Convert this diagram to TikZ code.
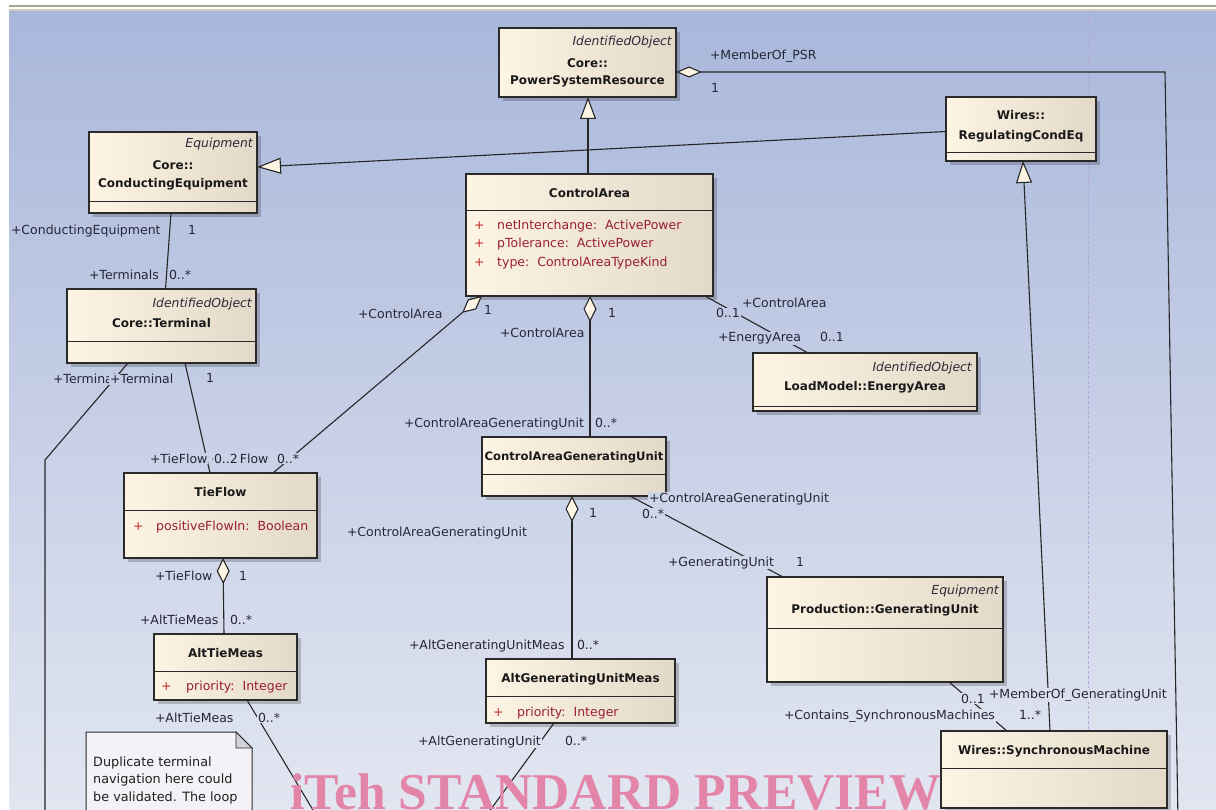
\documentclass[tikz,border=0pt]{standalone}
\usepackage{fontspec}
\usetikzlibrary{arrows.meta,shadows}
\newfontfamily\umlf{DejaVu Sans}
\newfontfamily\wmf{Liberation Serif}
\definecolor{bgTop}{HTML}{A9B7DB}
\definecolor{bgBot}{HTML}{E2E6F1}
\definecolor{boxL}{HTML}{FDF4E4}
\definecolor{boxR}{HTML}{E3D9C8}
\definecolor{boxln}{HTML}{2A2A2A}
\definecolor{lnc}{HTML}{262626}
\definecolor{labc}{HTML}{262638}
\definecolor{ttlc}{HTML}{1A1A1A}
\definecolor{sterc}{HTML}{302838}
\definecolor{attrc}{HTML}{9A1F30}
\definecolor{plusc}{HTML}{C42A2A}
\definecolor{notef}{HTML}{F4F2F6}
\definecolor{foldc}{HTML}{D2D2D8}
\definecolor{notec}{HTML}{202020}
\definecolor{wmc}{HTML}{E385A8}
\definecolor{pagel}{HTML}{B3A8D8}
\definecolor{topla}{HTML}{A8A48F}
\definecolor{toplb}{HTML}{D0CBB6}
\newcommand\lfont{\umlf\fontsize{12.5}{15}\selectfont}
\newcommand\tfont{\umlf\bfseries\fontsize{12}{14}\selectfont}
\newcommand\sfont{\umlf\itshape\fontsize{12.4}{15}\selectfont}
\newcommand\nfont{\umlf\fontsize{12.8}{15}\selectfont}
\newcount\labn
\newcommand\lb[3]{\global\advance\labn by 1\relax
  \pgfmathsetmacro\pct{100-((#2)-11)/7.99}%
  \node[lab, fill=bgTop!\pct!bgBot] (lab\the\labn) at (#1,#2) {#3};}
\newcommand\tn[4]{\global\advance\labn by 1\relax
  \node[#1] (t\the\labn) at (#2,#3) {#4};}
\newcommand\ubox[5]{\pgfmathsetmacro\bw{(#4)-(#2)}\pgfmathsetmacro\bh{(#5)-(#3)}%
  \node[ubox, minimum width=\bw pt, minimum height=\bh pt, anchor=north west] (#1) at (#2,#3) {};}
\tikzset{
  ubox/.style={draw=boxln, line width=1.2pt, left color=boxL, right color=boxR,
    inner sep=0pt, outer sep=0pt,
    general shadow={fill=black, opacity=0.2, shadow xshift=4pt, shadow yshift=-4pt}},
  sepl/.style={draw=boxln, line width=1pt},
  conn/.style={draw=lnc, line width=1.1pt},
  gen/.tip={Triangle[length=22pt,width=16pt,fill=boxL]},
  agg/.tip={Diamond[length=26pt,width=13pt,fill=boxL]},
  lab/.style={font=\lfont, text=labc, inner sep=0.8pt, anchor=base west},
  ttl/.style={font=\tfont, text=ttlc, anchor=base, inner sep=0pt},
  ster/.style={font=\sfont, text=sterc, anchor=base east, inner sep=0pt},
  attr/.style={font=\lfont, text=attrc, anchor=base west, inner sep=0pt},
  plus/.style={font=\lfont, text=plusc, anchor=base west, inner sep=0pt},
  notet/.style={font=\nfont, text=notec, anchor=base west, inner sep=0pt},
}
\begin{document}
\begin{tikzpicture}[x=1pt,y=-1pt]
\useasboundingbox (0,0) rectangle (1216,810);
\clip (0,0) rectangle (1216,810);
% background
\fill[white] (0,0) rectangle (1216,810);
\fill[top color=bgTop, bottom color=bgBot] (9,11) rectangle (1216,810);
\draw[topla, line width=2pt] (9,6) -- (1216,6);
\draw[toplb, line width=2pt] (9,10) -- (1216,10);
\draw[pagel, line width=0.8pt, dash pattern=on 3pt off 2pt] (1088,11) -- (1088,810);

% boxes
\ubox{psr}{499}{28}{676}{97}
\ubox{ce}{89}{132}{257}{213}
\ubox{rce}{946}{97}{1096}{161}
\ubox{ca}{466}{174}{713}{296}
\ubox{term}{67}{289}{256}{363}
\ubox{tf}{124}{473}{317}{558}
\ubox{ea}{753}{353}{977}{411}
\ubox{cagu}{482}{437}{666}{496}
\ubox{gu}{767}{577}{1003}{682}
\ubox{atm}{154}{634}{297}{700}
\ubox{agum}{486}{659}{675}{723}
\ubox{sm}{941}{731}{1167}{808}

% compartment separators
\draw[sepl] (ce.west |- 0,202) -- (ce.east |- 0,202);
\draw[sepl] (rce.west |- 0,153) -- (rce.east |- 0,153);
\draw[sepl] (ca.west |- 0,211) -- (ca.east |- 0,211);
\draw[sepl] (term.west |- 0,342) -- (term.east |- 0,342);
\draw[sepl] (tf.west |- 0,510) -- (tf.east |- 0,510);
\draw[sepl] (ea.west |- 0,406) -- (ea.east |- 0,406);
\draw[sepl] (cagu.west |- 0,474) -- (cagu.east |- 0,474);
\draw[sepl] (gu.west |- 0,628) -- (gu.east |- 0,628);
\draw[sepl] (atm.west |- 0,671) -- (atm.east |- 0,671);
\draw[sepl] (agum.west |- 0,696) -- (agum.east |- 0,696);
\draw[sepl] (sm.west |- 0,768) -- (sm.east |- 0,768);

% box texts
\tn{ster}{672}{46}{IdentifiedObject}
\tn{ttl}{587.5}{68}{Core::}
\tn{ttl}{587.5}{85}{PowerSystemResource}
\tn{ster}{253}{148}{Equipment}
\tn{ttl}{173}{170}{Core::}
\tn{ttl}{173}{188}{ConductingEquipment}
\tn{ttl}{1021}{120}{Wires::}
\tn{ttl}{1021}{140}{RegulatingCondEq}
\tn{ttl}{589.5}{198}{ControlArea}
\tn{plus}{474}{229.5}{+}
\tn{attr}{497}{229.5}{netInterchange:\hspace{8pt}ActivePower}
\tn{plus}{474}{248}{+}
\tn{attr}{497}{248}{pTolerance:\hspace{8pt}ActivePower}
\tn{plus}{474}{266.5}{+}
\tn{attr}{497}{266.5}{type:\hspace{8pt}ControlAreaTypeKind}
\tn{ster}{252}{307.5}{IdentifiedObject}
\tn{ttl}{161.5}{328}{Core::Terminal}
\tn{ttl}{220.5}{496}{TieFlow}
\tn{plus}{133}{530}{+}
\tn{attr}{156}{530}{positiveFlowIn:\hspace{8pt}Boolean}
\tn{ster}{972}{371}{IdentifiedObject}
\tn{ttl}{865}{390.5}{LoadModel::EnergyArea}
\tn{ttl}{574}{460}{\fontsize{11.6}{14}\selectfont ControlAreaGeneratingUnit}
\tn{ster}{999}{594}{Equipment}
\tn{ttl}{885}{613}{Production::GeneratingUnit}
\tn{ttl}{225.5}{657}{AltTieMeas}
\tn{plus}{161}{690}{+}
\tn{attr}{186}{690}{priority:\hspace{8pt}Integer}
\tn{ttl}{580.5}{682}{AltGeneratingUnitMeas}
\tn{plus}{493}{716}{+}
\tn{attr}{517}{716}{priority:\hspace{8pt}Integer}
\tn{ttl}{1054}{754}{Wires::SynchronousMachine}

% free ends
\coordinate (psrbend) at (1165,72);
\coordinate (psrend) at (1178,820);
\coordinate (termbend) at (45,460);
\coordinate (termend) at (45,820);
\coordinate (atmend) at (319,820);
\coordinate (agumend) at (483,820);

% connectors
\draw[conn, -gen] (ca.north -| 588,0) -- (psr.south -| 588,0);
\draw[conn, -{Triangle[length=24pt,width=16pt,fill=boxL]}] (rce.west |- 0,131.5) -- (ce.east |- 0,167);
\draw[conn, -gen] (sm.north -| 1050,0) -- (rce.south -| 1023,0);
\draw[conn, {Diamond[length=26pt,width=11pt,fill=boxL]}-] (psr.east |- 0,72) -- (psrbend) -- (psrend);
\draw[conn] (ce.south -| 171,0) -- (term.north -| 165.5,0);
\draw[conn] (term.south -| 185,0) -- (tf.north -| 210,0);
\draw[conn] (term.south -| 128,0) -- (termbend) -- (termend);
\draw[conn, agg-] (ca.south -| 482,0) -- (tf.north -| 273,0);
\draw[conn, agg-] (ca.south -| 590,0) -- (cagu.north -| 590,0);
\draw[conn] (ca.south -| 705,0) -- (ea.north -| 808,0);
\draw[conn] (cagu.south -| 630,0) -- (gu.north -| 783,0);
\draw[conn, agg-] (cagu.south -| 572,0) -- (agum.north -| 572,0);
\draw[conn, agg-] (tf.south -| 223,0) -- (atm.north -| 224,0);
\draw[conn] (atm.south -| 247,0) -- (atmend);
\draw[conn] (agum.south -| 554,0) -- (agumend);
\draw[conn] (gu.south -| 949,0) -- (sm.north -| 1007,0);

% connector labels
\lb{709}{60}{+MemberOf\_PSR}
\lb{710}{93}{1}
\lb{10}{235}{+ConductingEquipment}
\lb{187}{235}{1}
\lb{88}{280}{+Terminals}
\lb{168}{280}{0..*}
\lb{52}{384}{+Terminal}
\lb{109}{384}{+Terminal}
\lb{205}{383}{1}
\lb{149}{463}{+TieFlow}
\lb{210}{463}{+TieFlow}
\lb{213}{463}{0..2}
\lb{276}{463}{0..*}
\lb{357}{319}{+ControlArea}
\lb{483}{315}{1}
\lb{499}{338}{+ControlArea}
\lb{607}{318}{1}
\lb{403}{427}{+ControlAreaGeneratingUnit}
\lb{594}{427}{0..*}
\lb{715}{318}{0..1}
\lb{741}{308}{+ControlArea}
\lb{717}{342}{+EnergyArea}
\lb{819}{342}{0..1}
\lb{648}{502}{+ControlAreaGeneratingUnit}
\lb{641}{518}{0..*}
\lb{667}{566}{+GeneratingUnit}
\lb{795}{566}{1}
\lb{588}{517}{1}
\lb{346}{536}{+ControlAreaGeneratingUnit}
\lb{154}{580}{+TieFlow}
\lb{238}{580}{1}
\lb{139}{624}{+AltTieMeas}
\lb{229}{624}{0..*}
\lb{154}{722}{+AltTieMeas}
\lb{257}{722}{0..*}
\lb{408}{649}{+AltGeneratingUnitMeas}
\lb{576}{649}{0..*}
\lb{417}{745}{+AltGeneratingUnit}
\lb{564}{745}{0..*}
\lb{960}{703}{0..1}
\lb{988}{698}{+MemberOf\_GeneratingUnit}
\lb{783}{719}{+Contains\_SynchronousMachines}
\lb{1018}{719}{1..*}

% note
\filldraw[fill=notef, draw=boxln, line width=1pt] (86,732) -- (236,732) -- (252,748) -- (252,830) -- (86,830) -- cycle;
\filldraw[fill=foldc, draw=boxln, line width=0.8pt] (236,732) -- (236,748) -- (252,748) -- cycle;
\tn{notet}{93}{766}{Duplicate terminal}
\tn{notet}{93}{783.5}{navigation here could}
\tn{notet}{93}{801.5}{be validated. The loop}

% watermark
\node[font=\wmf\bfseries\fontsize{51.6}{52}\selectfont, text=wmc, anchor=base west, inner sep=0pt] (wm) at (290,809.5) {iTeh STANDARD PREVIEW};
\end{tikzpicture}
\end{document}
